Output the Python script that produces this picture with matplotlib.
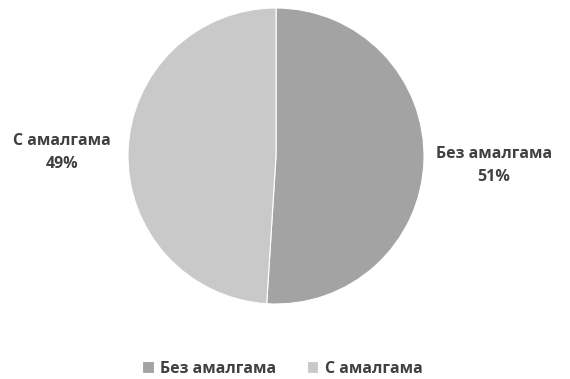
import numpy as np
import matplotlib.pyplot as plt

# Доли пломб с амалгамой и без
labels = ['Без амалгама', 'С амалгама']
values = [51, 49]
colors = ['#a3a3a3', '#c9c9c9']

plt.rcParams['font.family'] = ['Open Sans', 'DejaVu Sans']

fig = plt.figure(figsize=(5.7, 3.79), dpi=100)
ax = fig.add_axes([0, 0, 1, 1])

cx, cy, r = 276, 223, 148
wedges, _ = ax.pie(values, colors=colors, startangle=90, counterclock=False,
                   center=(cx, cy), radius=r, frame=True,
                   wedgeprops=dict(edgecolor='white', linewidth=0.8))
ax.set_xlim(0, 570)
ax.set_ylim(0, 379)
ax.set_aspect('equal')
ax.axis('off')

# Подписи снаружи круга, по центру каждого сектора
for w, name, v in zip(wedges, labels, values):
    ang = np.deg2rad((w.theta1 + w.theta2) / 2)
    x = cx + 1.46 * r * np.cos(ang) + 2
    y = cy + 1.46 * r * np.sin(ang) - 3
    ax.text(x, y, f'{name}\n{v}%', ha='center', va='center',
            fontsize=11.5, fontweight='bold', color='#404040', linespacing=1.55)

# Легенда внизу
leg = ax.legend(wedges, labels, loc='center', bbox_to_anchor=(0.495, 0.027),
                ncol=2, frameon=False, handlelength=0.75, handleheight=0.75,
                columnspacing=1.9, handletextpad=0.4,
                prop=dict(size=11.5, weight='bold'))
for t in leg.get_texts():
    t.set_color('#404040')

fig.savefig('out.png', dpi=100, facecolor='white')
